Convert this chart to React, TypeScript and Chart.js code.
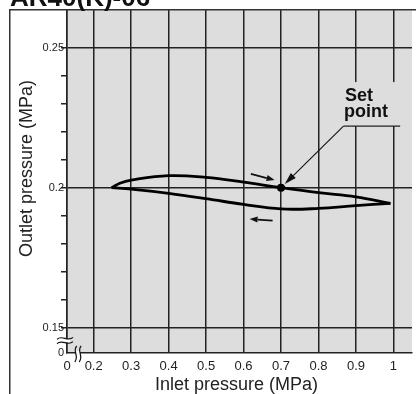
import React, { useEffect, useRef } from "react";
import { Chart, registerables } from "chart.js";

Chart.register(...registerables);

const FONT = "'Liberation Sans', Arial, Helvetica, sans-serif";

// axis ranges (broken axes: the left/bottom edges stand for 0)
const X_MIN = 0.1288;
const X_MAX = 1.0496;
const Y_MIN = 0.14096;
const Y_MAX = 0.26346;

const xTickValues = [X_MIN, 0.2, 0.3, 0.4, 0.5, 0.6, 0.7, 0.8, 0.9, 1.0];
const xTickLabels = ["0", "0.2", "0.3", "0.4", "0.5", "0.6", "0.7", "0.8", "0.9", "1"];
const yTickValues = [Y_MIN, 0.15, 0.16, 0.17, 0.18, 0.19, 0.2, 0.21, 0.22, 0.23, 0.24, 0.25];
const yTickLabels = ["0", "0.15", "", "", "", "", "0.2", "", "", "", "", "0.25"];
const yMajorValues = [0.15, 0.2, 0.25];

// hysteresis loop: rising inlet pressure (upper) and falling (lower)
const upperX = [0.248, 0.27, 0.3, 0.4, 0.5, 0.6, 0.7, 0.8, 0.9, 0.992];
const upperY = [0.2, 0.2016, 0.2027, 0.2043, 0.2037, 0.202, 0.2, 0.1982, 0.1967, 0.1944];
const lowerX = [0.992, 0.9, 0.8, 0.7, 0.6, 0.5, 0.4, 0.3, 0.248];
const lowerY = [0.1944, 0.1936, 0.1926, 0.1924, 0.194, 0.1961, 0.198, 0.1995, 0.2];
const setPointX = [0.7];
const setPointY = [0.2];

// annotations (data units)
const arrowRight = [0.6195, 0.2049, 0.6828, 0.20275];
const arrowLeft = [0.6776, 0.18821, 0.6161, 0.18882];
const setArrow = [0.8667, 0.222, 0.71, 0.20132];
const setUnderlineEnd = 1.018;
const setLabelLines = ["Set", "point"];

const TITLE = "AR40(K)-06";
const X_TITLE = "Inlet pressure (MPa)";
const Y_TITLE = "Outlet pressure (MPa)";

const near = (a: number, b: number) => Math.abs(a - b) < 1e-6;

function drawArrow(
  ctx: CanvasRenderingContext2D,
  x1: number, y1: number, x2: number, y2: number,
  lw: number, headLen: number, headW: number
) {
  const ang = Math.atan2(y2 - y1, x2 - x1);
  const bx = x2 - Math.cos(ang) * headLen;
  const by = y2 - Math.sin(ang) * headLen;
  ctx.lineWidth = lw;
  ctx.beginPath();
  ctx.moveTo(x1, y1);
  ctx.lineTo(bx, by);
  ctx.stroke();
  ctx.beginPath();
  ctx.moveTo(x2, y2);
  ctx.lineTo(bx + Math.sin(ang) * headW, by - Math.cos(ang) * headW);
  ctx.lineTo(bx - Math.sin(ang) * headW, by + Math.cos(ang) * headW);
  ctx.closePath();
  ctx.fill();
}

const decorPlugin = {
  id: "decor",
  beforeDraw(chart: any) {
    const { ctx, chartArea: a } = chart;
    ctx.save();
    ctx.fillStyle = "#dddddd";
    ctx.fillRect(a.left, a.top, a.right - a.left, a.bottom - a.top);
    ctx.restore();
  },
  afterDraw(chart: any) {
    const { ctx, chartArea: a, scales } = chart;
    const px = (v: number) => scales.x.getPixelForValue(v);
    const py = (v: number) => scales.y.getPixelForValue(v);
    ctx.save();

    // outer frame
    ctx.strokeStyle = "#333";
    ctx.lineWidth = 1.5;
    ctx.beginPath();
    ctx.moveTo(9.75, chart.height);
    ctx.lineTo(9.75, 9.75);
    ctx.lineTo(chart.width, 9.75);
    ctx.stroke();

    // title (partly cut off at the top)
    ctx.fillStyle = "#111";
    ctx.font = `bold 26px ${FONT}`;
    ctx.textAlign = "left";
    ctx.textBaseline = "alphabetic";
    ctx.fillText(TITLE, 10, 5.5);

    // axis titles
    ctx.fillStyle = "#222";
    ctx.font = `18px ${FONT}`;
    ctx.textAlign = "center";
    ctx.fillText(X_TITLE, (a.left + a.right) / 2 - 3, 389.5);
    ctx.save();
    ctx.translate(27, 168.5);
    ctx.rotate(-Math.PI / 2);
    ctx.textBaseline = "middle";
    ctx.fillText(Y_TITLE, 0, 0);
    ctx.restore();

    // y-axis break
    const yc = a.bottom - 12.5;
    ctx.fillStyle = "#ffffff";
    ctx.fillRect(a.left - 2, yc - 2, 5, 4);
    ctx.strokeStyle = "#111";
    ctx.lineWidth = 1.2;
    [-2.2, 2.2].forEach((dy) => {
      ctx.beginPath();
      ctx.moveTo(a.left - 10, yc + dy + 1);
      ctx.bezierCurveTo(a.left - 5, yc + dy - 4, a.left + 1, yc + dy + 4, a.left + 6, yc + dy - 1);
      ctx.stroke();
    });
    // x-axis break
    const xc = a.left + 11;
    ctx.fillStyle = "#ffffff";
    ctx.fillRect(xc - 2, a.bottom - 2, 4, 4);
    [-2.2, 2.2].forEach((dx) => {
      ctx.beginPath();
      ctx.moveTo(xc + dx + 1, a.bottom - 7);
      ctx.bezierCurveTo(xc + dx - 4, a.bottom - 2, xc + dx + 4, a.bottom + 3, xc + dx - 1, a.bottom + 9);
      ctx.stroke();
    });

    // set point label
    ctx.font = `bold 18px ${FONT}`;
    ctx.textAlign = "left";
    ctx.textBaseline = "alphabetic";
    const ux1 = px(setArrow[0]);
    const uy = py(setArrow[1]);
    const ux2 = px(setUnderlineEnd);
    ctx.fillStyle = "#dddddd";
    ctx.fillRect(ux1 - 4, uy - 44, ux2 - ux1 + 10, 44);
    ctx.fillStyle = "#111";
    ctx.fillText(setLabelLines[0], ux1 + 1.5, uy - 25);
    ctx.fillText(setLabelLines[1], ux1 + 0.5, uy - 9.3);
    ctx.strokeStyle = "#222";
    ctx.lineWidth = 1.2;
    ctx.beginPath();
    ctx.moveTo(ux1, uy);
    ctx.lineTo(ux2, uy);
    ctx.stroke();

    // arrows
    ctx.strokeStyle = "#111";
    ctx.fillStyle = "#111";
    drawArrow(ctx, ux1, uy, px(setArrow[2]), py(setArrow[3]), 1.1, 12, 3.5);
    drawArrow(ctx, px(arrowRight[0]), py(arrowRight[1]), px(arrowRight[2]), py(arrowRight[3]), 1.8, 8, 3);
    drawArrow(ctx, px(arrowLeft[0]), py(arrowLeft[1]), px(arrowLeft[2]), py(arrowLeft[3]), 1.8, 8, 3);

    ctx.restore();
  },
};

export default function App() {
  const ref = useRef<HTMLCanvasElement | null>(null);

  useEffect(() => {
    document.body.style.margin = "0";
    const canvas = ref.current;
    if (!canvas) return;
    const toPts = (xs: number[], ys: number[]) => xs.map((x, i) => ({ x, y: ys[i] }));
    const chart = new Chart(canvas, {
      type: "scatter",
      data: {
        datasets: [
          {
            data: toPts(setPointX, setPointY),
            showLine: false,
            pointRadius: 4,
            pointBackgroundColor: "#000",
            pointBorderColor: "#000",
            pointBorderWidth: 0,
          },
          {
            data: toPts(upperX, upperY),
            showLine: true,
            borderColor: "#000",
            borderWidth: 2.8,
            pointRadius: 0,
            tension: 0.4,
            fill: false,
          },
          {
            data: toPts(lowerX, lowerY),
            showLine: true,
            borderColor: "#000",
            borderWidth: 2.8,
            pointRadius: 0,
            tension: 0.4,
            fill: false,
          },
        ],
      },
      options: {
        animation: false,
        responsive: false,
        events: [],
        layout: { padding: { top: 10, left: 0, right: 0, bottom: 0 } },
        plugins: {
          legend: { display: false },
          tooltip: { enabled: false },
          title: { display: false },
        },
        scales: {
          x: {
            type: "linear",
            min: X_MIN,
            max: X_MAX,
            afterFit: (s: any) => {
              s.height = 41;
            },
            afterBuildTicks: (s: any) => {
              s.ticks = xTickValues.map((v) => ({ value: v }));
            },
            ticks: {
              autoSkip: false,
              maxRotation: 0,
              padding: 6,
              color: "#222",
              font: { family: FONT, size: 13 },
              callback: (v: any) => {
                const i = xTickValues.findIndex((t) => near(t, Number(v)));
                return i >= 0 ? xTickLabels[i] : "";
              },
            },
            grid: { color: "#222", lineWidth: 1.5, drawTicks: false },
            border: { display: true, color: "#222", width: 1.5 },
          },
          y: {
            type: "linear",
            min: Y_MIN,
            max: Y_MAX,
            afterFit: (s: any) => {
              s.width = 67;
            },
            afterBuildTicks: (s: any) => {
              s.ticks = yTickValues.map((v) => ({ value: v }));
            },
            ticks: {
              autoSkip: false,
              padding: -3,
              color: "#222",
              font: { family: FONT, size: 11 },
              callback: (v: any) => {
                const i = yTickValues.findIndex((t) => near(t, Number(v)));
                return i >= 0 ? yTickLabels[i] : "";
              },
            },
            grid: {
              lineWidth: 1.5,
              tickLength: 6,
              color: (c: any) =>
                c.tick && yMajorValues.some((m) => near(m, c.tick.value)) ? "#222" : "rgba(0,0,0,0)",
              tickColor: (c: any) =>
                c.tick && near(c.tick.value, Y_MIN) ? "rgba(0,0,0,0)" : "#222",
            },
            border: { display: true, color: "#222", width: 1.5 },
          },
        },
      },
      plugins: [decorPlugin],
    } as any);
    return () => chart.destroy();
  }, []);

  return (
    <div style={{ width: 416, height: 394 }}>
      <canvas ref={ref} width={416} height={394} style={{ display: "block" }} />
    </div>
  );
}
